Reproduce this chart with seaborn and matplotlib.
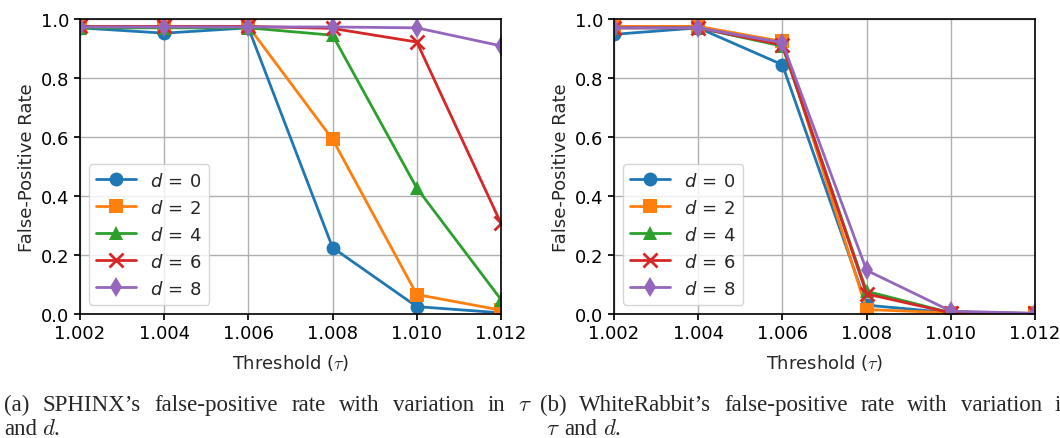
import numpy as np
import pandas as pd
import seaborn as sns
import matplotlib.pyplot as plt

sns.set_theme(style="whitegrid")
plt.rcParams.update({
    "font.family": ["DejaVu Sans"],
    "mathtext.fontset": "dejavusans",
    "axes.edgecolor": "black",
    "axes.linewidth": 1.2,
    "grid.color": "#b0b0b0",
    "grid.linewidth": 1.0,
    "xtick.bottom": True,
    "ytick.left": True,
    "xtick.color": "black",
    "ytick.color": "black",
    "xtick.major.size": 4,
    "ytick.major.size": 4,
})

thresholds = [1.002, 1.004, 1.006, 1.008, 1.010, 1.012]
tick_labels = ["1.002", "1.004", "1.006", "1.008", "1.010", "1.012"]
d_values = [0, 2, 4, 6, 8]

# SPHINX false-positive rate, one list per d
sphinx_d0 = [0.970, 0.952, 0.970, 0.225, 0.025, 0.004]
sphinx_d2 = [0.975, 0.975, 0.975, 0.592, 0.066, 0.013]
sphinx_d4 = [0.970, 0.970, 0.970, 0.945, 0.427, 0.049]
sphinx_d6 = [0.975, 0.975, 0.975, 0.968, 0.922, 0.307]
sphinx_d8 = [0.973, 0.973, 0.973, 0.973, 0.970, 0.909]

# WhiteRabbit false-positive rate, one list per d
white_d0 = [0.948, 0.970, 0.845, 0.030, 0.004, 0.002]
white_d2 = [0.975, 0.975, 0.924, 0.015, 0.004, 0.002]
white_d4 = [0.970, 0.970, 0.908, 0.077, 0.004, 0.002]
white_d6 = [0.970, 0.970, 0.912, 0.068, 0.004, 0.002]
white_d8 = [0.970, 0.970, 0.920, 0.148, 0.010, 0.002]

caption_a = ["(a) SPHINX\u2019s false-positive rate with variation in $\\tau$", "and $d$."]
caption_b = ["(b) WhiteRabbit\u2019s false-positive rate with variation in", "$\\tau$ and $d$."]


def long_form(series):
    rows = []
    for d, vals in zip(d_values, series):
        for t, v in zip(thresholds, vals):
            rows.append({"Threshold": t, "FPR": v, "d": f"$d\\,=\\,{d}$"})
    return pd.DataFrame(rows)


sphinx_df = long_form([sphinx_d0, sphinx_d2, sphinx_d4, sphinx_d6, sphinx_d8])
white_df = long_form([white_d0, white_d2, white_d4, white_d6, white_d8])

palette = sns.color_palette("tab10", 5)
markers = ["o", "s", "^", "X", "d"]

fig = plt.figure(figsize=(10.6, 4.39), dpi=100)
ax1 = fig.add_axes([80 / 1060, 1 - 315 / 439, 421 / 1060, 295 / 439])
ax2 = fig.add_axes([614 / 1060, 1 - 315 / 439, 421 / 1060, 295 / 439])


def fix_x_marker(line):
    if line.get_marker() == "X":
        line.set_marker("x")
        line.set_markeredgewidth(2)
        line.set_markeredgecolor(line.get_color())


for ax, df in [(ax1, sphinx_df), (ax2, white_df)]:
    sns.lineplot(data=df, x="Threshold", y="FPR", hue="d", style="d",
                 palette=palette, markers=markers, dashes=False,
                 linewidth=2, markersize=10, markeredgewidth=0, ax=ax)
    for line in ax.get_lines():
        fix_x_marker(line)
    ax.set_xlim(1.002, 1.012)
    ax.set_ylim(0, 1.0)
    ax.set_xticks(thresholds)
    ax.set_xticklabels(tick_labels)
    ax.set_yticks([0, 0.2, 0.4, 0.6, 0.8, 1.0])
    ax.tick_params(labelsize=13)
    ax.set_xlabel(r"Threshold ($\tau$)", fontsize=13, math_fontfamily="cm",
                  labelpad=7)
    ax.set_ylabel("False-Positive Rate", fontsize=13)
    ax.grid(True)
    handles, labels = ax.get_legend_handles_labels()
    for h in handles:
        fix_x_marker(h)
    ax.legend(handles, labels, loc="lower left", fontsize=13, title=None,
              frameon=True, edgecolor="#cccccc", framealpha=0.8,
              borderaxespad=0.5, handlelength=2.2)

# captions, justified word by word like the paper's text
serif = ["Liberation Serif", "DejaVu Serif"]
renderer = fig.canvas.get_renderer()


def justified(line, x0, x1, y, justify=True):
    words = line.split(" ")
    texts = [fig.text(0, y, w, fontsize=16.5, family=serif, va="baseline",
                      ha="left", math_fontfamily="cm") for w in words]
    widths = [t.get_window_extent(renderer).width for t in texts]
    if justify and len(words) > 1:
        gap = (x1 - x0 - sum(widths)) / (len(words) - 1)
    else:
        gap = 5
    x = x0
    for t, w in zip(texts, widths):
        t.set_x(x / 1060)
        x += w + gap


justified(caption_a[0], 4, 532, 1 - 411 / 439)
justified(caption_a[1], 4, 532, 1 - 435 / 439, justify=False)
justified(caption_b[0], 540, 1072, 1 - 411 / 439)
justified(caption_b[1], 546, 1072, 1 - 435 / 439, justify=False)

fig.savefig("out.png", dpi=100)
